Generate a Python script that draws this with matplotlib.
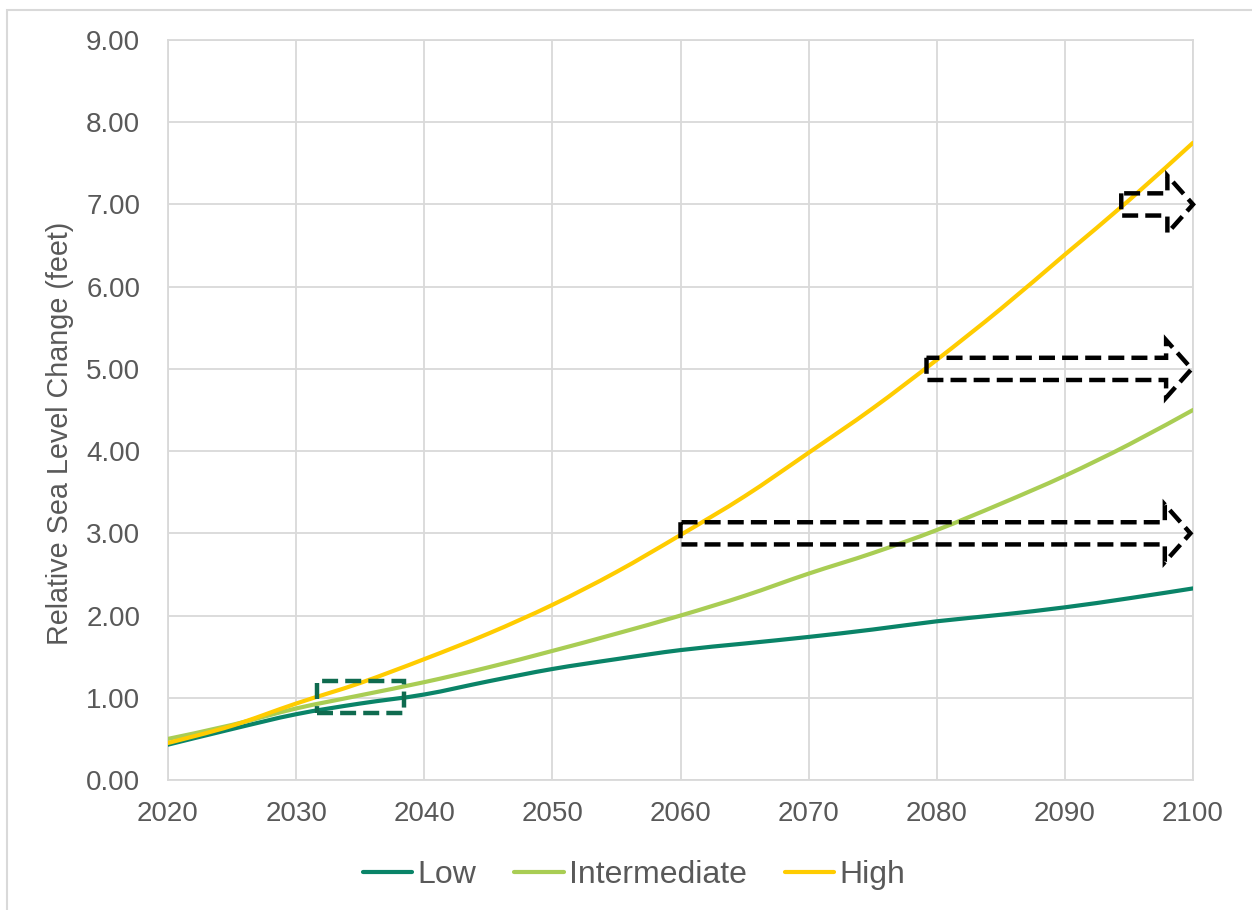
import matplotlib
matplotlib.use("Agg")
import matplotlib.pyplot as plt
from matplotlib.patches import Polygon, Rectangle, PathPatch
from matplotlib.path import Path
from matplotlib.lines import Line2D

plt.rcParams['font.family'] = ['Liberation Sans', 'DejaVu Sans']

years = [2020, 2025, 2030, 2035, 2040, 2045, 2050, 2055, 2060, 2065, 2070, 2075, 2080, 2085, 2090, 2095, 2100]
low = [0.43, 0.62, 0.80, 0.93, 1.04, 1.20, 1.35, 1.47, 1.58, 1.66, 1.74, 1.83, 1.93, 2.01, 2.10, 2.21, 2.33]
intermediate = [0.50, 0.67, 0.87, 1.03, 1.19, 1.37, 1.57, 1.78, 2.00, 2.24, 2.51, 2.76, 3.04, 3.36, 3.70, 4.08, 4.50]
high = [0.45, 0.66, 0.93, 1.18, 1.47, 1.78, 2.13, 2.53, 2.98, 3.45, 3.98, 4.52, 5.11, 5.73, 6.39, 7.05, 7.75]

series_names = ['Low', 'Intermediate', 'High']
series_colors = ['#0A8468', '#A9CD54', '#FFCC00']

# dashed block arrows (start year, level, tip year)
arrow_starts = [2060.0, 2079.2, 2094.4]
arrow_levels = [3.0, 5.0, 7.0]
arrow_tips = [2099.8, 2099.9, 2100.0]
# dashed box near 2035 / 1 ft
box_x = [2031.6, 2038.4]
box_y = [0.82, 1.20]


def smooth_path(xs, ys):
    """Excel-style smoothed line: Catmull-Rom segments expressed as cubic Bezier curves."""
    n = len(xs)
    verts = [(xs[0], ys[0])]
    codes = [Path.MOVETO]
    for i in range(n - 1):
        p0 = (xs[max(i - 1, 0)], ys[max(i - 1, 0)])
        p1 = (xs[i], ys[i])
        p2 = (xs[i + 1], ys[i + 1])
        p3 = (xs[min(i + 2, n - 1)], ys[min(i + 2, n - 1)])
        c1 = (p1[0] + (p2[0] - p0[0]) / 6, p1[1] + (p2[1] - p0[1]) / 6)
        c2 = (p2[0] - (p3[0] - p1[0]) / 6, p2[1] - (p3[1] - p1[1]) / 6)
        verts += [c1, c2, p2]
        codes += [Path.CURVE4] * 3
    return Path(verts, codes)


W, H = 1252, 910
fig = plt.figure(figsize=(W / 100, H / 100), dpi=100)
fig.patch.set_facecolor('white')
ax = fig.add_axes([168 / W, 1 - 780 / H, (1193 - 168) / W, (780 - 40) / H])

grid_c = '#D9D9D9'
txt_c = '#595959'

handles = []
for vals, name, col in zip([low, intermediate, high], series_names, series_colors):
    ax.add_patch(PathPatch(smooth_path(years, vals), fill=False, edgecolor=col, lw=3,
                           capstyle='round', zorder=3))
    handles.append(Line2D([], [], color=col, lw=3, solid_capstyle='round', label=name))

ax.set_xlim(2020, 2100)
ax.set_ylim(0, 9)
ax.set_xticks(range(2020, 2101, 10))
ax.set_yticks(range(0, 10))
ax.set_yticklabels([f'{v:.2f}' for v in range(0, 10)])
ax.grid(True, color=grid_c, lw=1.3, zorder=0)
ax.set_axisbelow(True)
for s in ax.spines.values():
    s.set_color(grid_c)
    s.set_linewidth(1.3)
ax.tick_params(axis='both', length=0, labelsize=20, colors=txt_c)
ax.tick_params(axis='y', pad=20)
ax.tick_params(axis='x', pad=15)
ax.set_ylabel('Relative Sea Level Change (feet)', fontsize=20.7, color=txt_c)
ax.yaxis.set_label_coords(-0.092, 0.468)

dash = (0, (3.6, 1.6))
h_body = 0.135
h_head = 0.35
head_len = 2.0
for x0, c, xt in zip(arrow_starts, arrow_levels, arrow_tips):
    xb = xt - head_len
    pts = [(x0, c + h_body), (x0, c - h_body), (xb, c - h_body), (xb, c - h_head),
           (xt, c), (xb, c + h_head), (xb, c + h_body)]
    ax.add_patch(Polygon(pts, closed=True, fill=False, edgecolor='black', lw=3.2,
                         linestyle=dash, zorder=4, clip_on=False))

ax.add_patch(Rectangle((box_x[0], box_y[0]), box_x[1] - box_x[0], box_y[1] - box_y[0],
                       fill=False, edgecolor='#0F6B4F', lw=3.2, linestyle=dash, zorder=4))

leg = fig.legend(handles=handles, loc='center', bbox_to_anchor=(634 / W, 1 - 875 / H), ncol=3,
                 frameon=False, fontsize=23, handlelength=1.55, handletextpad=0.15,
                 columnspacing=1.2)
for t in leg.get_texts():
    t.set_color(txt_c)

# outer chart border
fig.add_artist(Rectangle((7 / W, -0.05), 1.2, 1 - 10 / H + 0.05, transform=fig.transFigure,
                         fill=False, edgecolor='#D9D9D9', lw=1.5))

fig.savefig('out.png', dpi=100)
